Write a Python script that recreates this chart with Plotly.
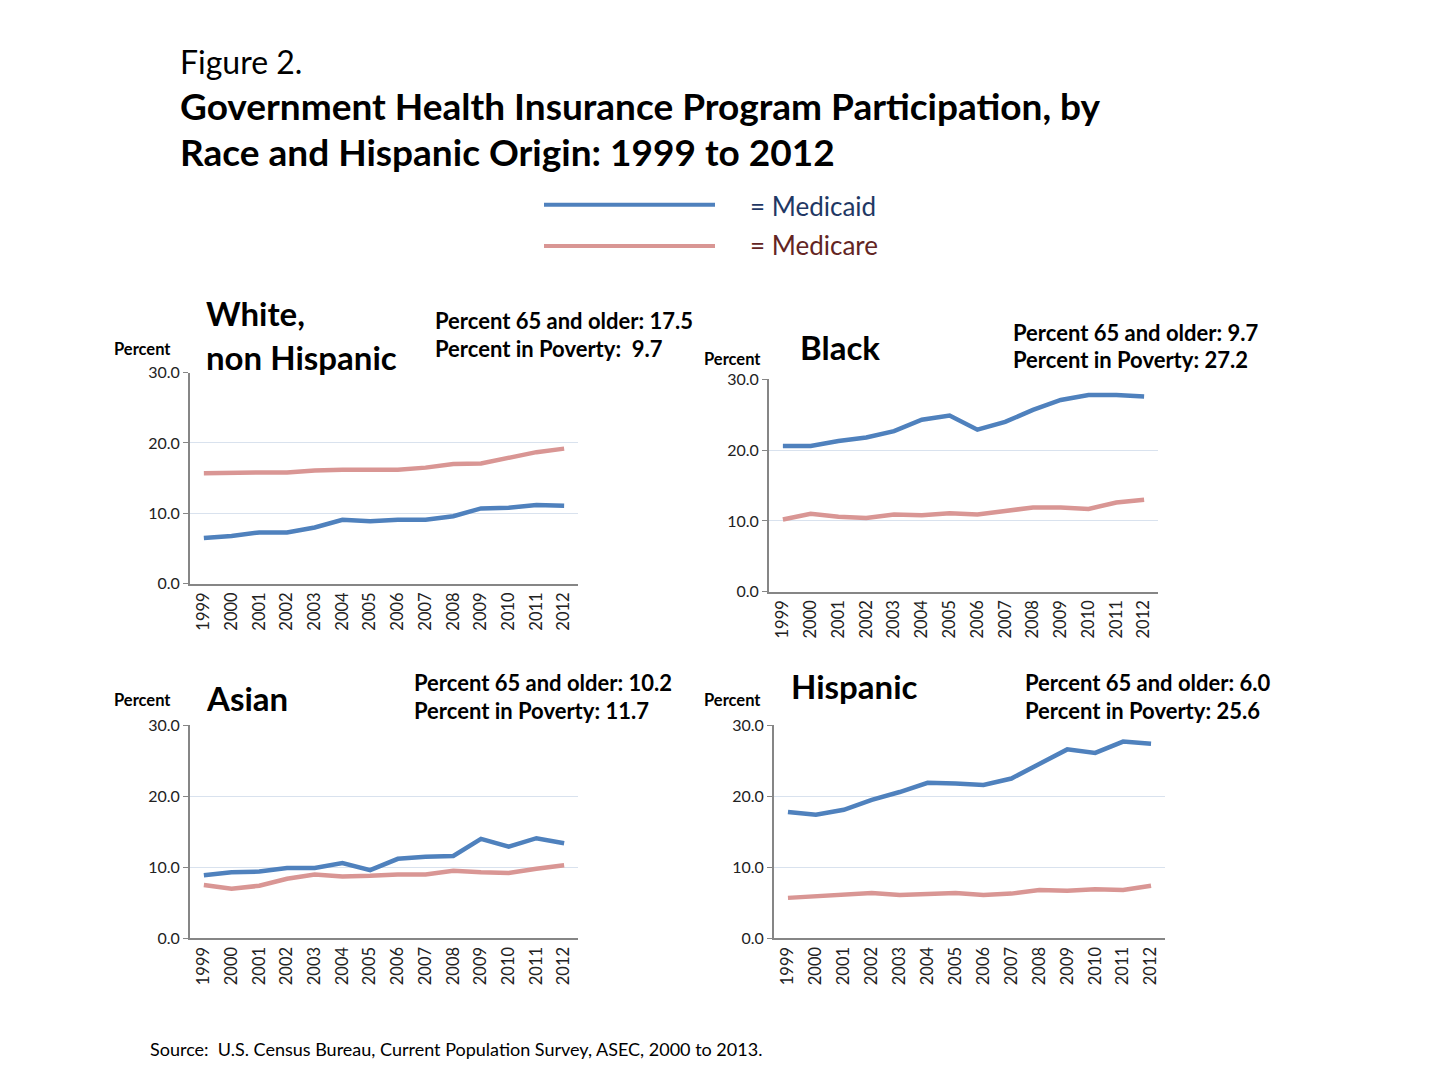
import plotly.graph_objects as go

W, H = 1429, 1071
FONT = "Lato"

years = [str(y) for y in range(1999, 2013)]

white_medicaid = [6.5, 6.8, 7.3, 7.3, 8.0, 9.1, 8.9, 9.1, 9.1, 9.6, 10.7, 10.8, 11.2, 11.1]
white_medicare = [15.7, 15.8, 15.8, 15.8, 16.1, 16.2, 16.2, 16.2, 16.5, 17.0, 17.1, 17.9, 18.7, 19.2]

black_medicaid = [20.6, 20.6, 21.3, 21.8, 22.7, 24.3, 24.9, 22.9, 24.0, 25.7, 27.1, 27.8, 27.8, 27.6]
black_medicare = [10.2, 11.0, 10.6, 10.4, 10.9, 10.8, 11.1, 10.9, 11.4, 11.9, 11.9, 11.7, 12.6, 13.0]

asian_medicaid = [8.9, 9.3, 9.4, 9.9, 9.9, 10.6, 9.6, 11.2, 11.5, 11.6, 14.0, 12.9, 14.1, 13.4]
asian_medicare = [7.5, 7.0, 7.4, 8.4, 9.0, 8.7, 8.8, 9.0, 9.0, 9.5, 9.3, 9.2, 9.8, 10.3]

hisp_medicaid = [17.8, 17.4, 18.1, 19.5, 20.6, 21.9, 21.8, 21.6, 22.5, 24.5, 26.6, 26.1, 27.7, 27.4]
hisp_medicare = [5.7, 5.9, 6.1, 6.4, 6.1, 6.2, 6.4, 6.1, 6.3, 6.8, 6.7, 6.9, 6.8, 7.4]

y_ticks = [0, 10, 20, 30]
y_tick_text = ["0.0", "10.0", "20.0", "30.0"]

BLUE = "#4F81BD"
PINK = "#D99694"

# panel boxes in pixels: left, right, top, bottom
panels = [
    dict(box=(182, 570, 361, 576), aid=white_medicaid, care=white_medicare,
         title=["White,", "non Hispanic"], tx=196, ty=[300, 345],
         stats=["Percent 65 and older: 17.5", "Percent in Poverty:  9.7"], sx=425, sy=[308, 336],
         px=104, py=337),
    dict(box=(761, 1150, 368, 584), aid=black_medicaid, care=black_medicare,
         title=["Black"], tx=790, ty=[335],
         stats=["Percent 65 and older: 9.7", "Percent in Poverty: 27.2"], sx=1003, sy=[320, 348],
         px=694, py=347),
    dict(box=(182, 570, 720, 937), aid=asian_medicaid, care=asian_medicare,
         title=["Asian"], tx=196, ty=[692],
         stats=["Percent 65 and older: 10.2", "Percent in Poverty: 11.7"], sx=404, sy=[677, 705],
         px=104, py=694),
    dict(box=(766, 1157, 720, 937), aid=hisp_medicaid, care=hisp_medicare,
         title=["Hispanic"], tx=781, ty=[680],
         stats=["Percent 65 and older: 6.0", "Percent in Poverty: 25.6"], sx=1015, sy=[677, 705],
         px=694, py=694),
]


def fx(px):
    return px / W


def fy(py):
    return 1 - py / H


fig = go.Figure()
annotations = []


def note(text, x, y, size, bold=False, color="#000000", xanchor="left"):
    if bold:
        text = "<b>" + text + "</b>"
    annotations.append(dict(text=text, x=fx(x), y=fy(y), xref="paper", yref="paper",
                            xanchor=xanchor, yanchor="middle", showarrow=False,
                            font=dict(family=FONT, size=size, color=color)))


layout_axes = {}
for i, p in enumerate(panels):
    n = i + 1
    xa = "x" if n == 1 else "x%d" % n
    ya = "y" if n == 1 else "y%d" % n
    fig.add_trace(go.Scatter(x=years, y=p["care"], mode="lines", xaxis=xa, yaxis=ya,
                             line=dict(color=PINK, width=4.5), showlegend=False))
    fig.add_trace(go.Scatter(x=years, y=p["aid"], mode="lines", xaxis=xa, yaxis=ya,
                             line=dict(color=BLUE, width=4.5), showlegend=False))
    l, r, t, b = p["box"]
    layout_axes["xaxis" if n == 1 else "xaxis%d" % n] = dict(
        domain=[fx(l), fx(r)], anchor=ya, type="category", range=[-0.5, 13.5],
        tickangle=-90, showgrid=False, showline=True, linecolor="#868686", linewidth=2,
        ticks="", tickfont=dict(family=FONT, size=16.5, color="#222222"), fixedrange=True)
    layout_axes["yaxis" if n == 1 else "yaxis%d" % n] = dict(
        domain=[fy(b), fy(t)], anchor=xa, range=[0, 30], tickvals=y_ticks,
        ticktext=y_tick_text, showgrid=True, gridcolor="#D9E2EE", gridwidth=1,
        showline=True, linecolor="#868686", linewidth=2, ticks="outside", ticklen=5,
        tickcolor="#868686", zeroline=False,
        tickfont=dict(family=FONT, size=16, color="#222222"), fixedrange=True)
    for txt, yy in zip(p["title"], p["ty"]):
        note(txt, p["tx"], yy, 33, bold=True)
    for txt, yy in zip(p["stats"], p["sy"]):
        note(txt, p["sx"], yy, 22, bold=True)
    note("Percent", p["px"], p["py"], 16.5, bold=True)

# heading
note("Figure 2.", 170, 44, 32)
note("Government Health Insurance Program Participation, by", 170, 89, 37, bold=True)
note("Race and Hispanic Origin: 1999 to 2012", 170, 136, 37, bold=True)

# hand-made legend
fig.add_shape(type="line", xref="paper", yref="paper", x0=fx(536), x1=fx(707), y0=fy(190), y1=fy(190),
              line=dict(color=BLUE, width=4))
fig.add_shape(type="line", xref="paper", yref="paper", x0=fx(536), x1=fx(707), y0=fy(232), y1=fy(232),
              line=dict(color=PINK, width=4))
note("= Medicaid", 740, 191, 26, color="#1F3864")
note("= Medicare", 740, 231, 26, color="#632523")

note("Source:  U.S. Census Bureau, Current Population Survey, ASEC, 2000 to 2013.", 140, 1050, 18)

fig.update_layout(width=W, height=H, margin=dict(l=0, r=0, t=0, b=0),
                  paper_bgcolor="white", plot_bgcolor="white",
                  annotations=annotations, **layout_axes)

fig.write_html("out.html")
